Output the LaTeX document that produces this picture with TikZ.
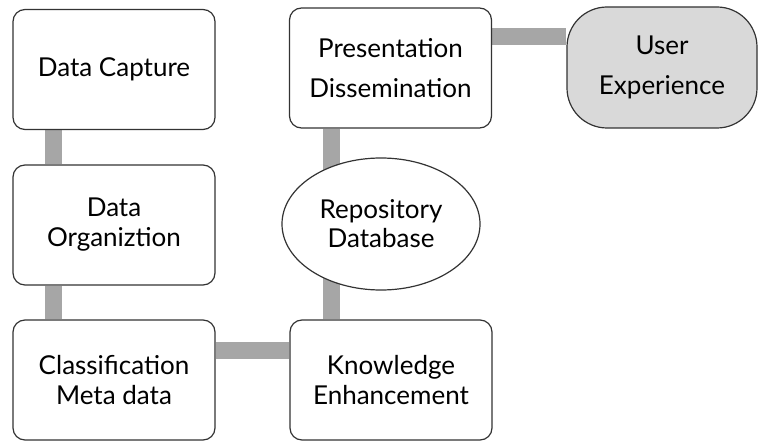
\documentclass[tikz,border=0pt]{standalone}
\usepackage{fontspec}
\setmainfont{Lato}
\usetikzlibrary{shapes.geometric}
\pgfdeclarelayer{background}
\pgfsetlayers{background,main}
\definecolor{linkgray}{HTML}{A6A6A6}
\definecolor{uxfill}{HTML}{D9D9D9}
\definecolor{edge}{HTML}{333333}
\tikzset{
  label font/.style={font=\fontsize{26}{#1}\selectfont},
  stagebox/.style={draw=edge, line width=1.2pt, fill=white, rounded corners=12pt,
    minimum width=202pt, minimum height=120pt, align=center, inner sep=0pt,
    label font=30},
  store/.style={ellipse, draw=edge, line width=1.2pt, fill=white,
    minimum width=198pt, minimum height=132pt, align=center, inner sep=0pt,
    label font=29},
  userbox/.style={draw=edge, line width=1.2pt, fill=uxfill, rounded corners=40pt,
    minimum width=190pt, minimum height=121pt, align=center, inner sep=0pt,
    label font=40},
  link/.style={draw=linkgray, line width=17pt}
}
\begin{document}
\begin{tikzpicture}[x=1pt, y=-1pt]
  \useasboundingbox (0,0) rectangle (758,441);
  % the stages
  \node[stagebox] (dc) at (114,69.5) {Data Capture};
  \node[stagebox] (do) at (114,225) {Data\\Organiztion};
  \node[stagebox] (cm) at (114,380) {Classification\\Meta data};
  \node[stagebox] (ke) at (391,380) {Knowledge\\Enhancement};
  \node[stagebox, label font=40] (pd) at (390.5,68) {Presentation\\Dissemination};
  \node[store] (db) at (381,224) {Repository\\Database};
  \node[userbox] (ux) at (662,67.5) {User\\Experience};
  % thick grey links, underneath the shapes
  \begin{pgfonlayer}{background}
    \path[link] ([xshift=41pt]dc.south west) -- ([xshift=41pt]do.north west);
    \path[link] ([xshift=41pt]do.south west) -- ([xshift=41pt]cm.north west);
    \path[link] ([yshift=30pt]cm.east) -- ([yshift=30pt]ke.west);
    \path[link] ([xshift=-60pt]ke.north) -- ([xshift=-59.5pt]pd.south);
    \path[link] ([yshift=31pt]pd.east) -- ([yshift=30.5pt]ux.west);
  \end{pgfonlayer}
\end{tikzpicture}
\end{document}
